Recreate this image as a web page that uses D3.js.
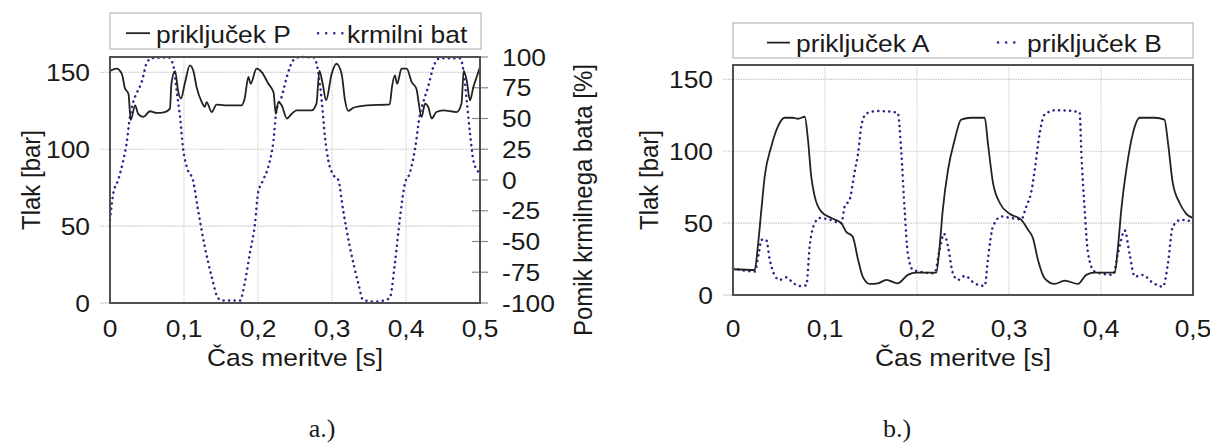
<!DOCTYPE html>
<html><head><meta charset="utf-8">
<script src="https://cdn.jsdelivr.net/npm/d3@7"></script>
<style>
body{margin:0;background:#fff;}
text{font-family:"Liberation Sans",Arial,sans-serif;fill:#1a1a1a;}
</style></head>
<body><svg id="c" width="1210" height="443"></svg>
<script>
// ---- data (chart a) ----
const tP = [0,0.009,0.016,0.020,0.025,0.028,0.034,0.038,0.045,0.054,0.063,0.074,0.081,0.083,0.088,0.092,0.096,0.101,0.108,0.1126,0.117,0.124,0.128,0.1306,0.1374,0.144,0.155,0.178,0.182,0.187,0.190,0.198,0.205,0.214,0.221,0.224,0.2275,0.232,0.239,0.2455,0.252,0.2725,0.279,0.283,0.2874,0.292,0.2995,0.306,0.313,0.3176,0.322,0.329,0.347,0.378,0.381,0.385,0.388,0.394,0.401,0.4077,0.414,0.421,0.4257,0.43,0.4347,0.441,0.450,0.4685,0.475,0.478,0.482,0.4865,0.491,0.4955,0.5];
const valP = [151,152.4,149,140,136,119,128.6,123,121,124.7,123.6,124.2,126.4,142.6,150.8,138,133,142.6,154.5,151,140.4,130.7,127.5,130.7,124.2,129,128.6,128.6,133,147,142.6,152.4,150.2,142.6,137,123,130.7,128.6,120,123,125.3,125.3,129.7,151,142.6,131.8,149,155.6,149,131.8,124.9,127,128.6,129.2,140.4,148,142.6,152.4,152.4,143.7,139.4,121,129.7,127.5,120,124.2,125.3,124.2,129.7,151,144.8,131.8,140.4,147,153.4];
const tBat = [0,0.0045,0.011,0.018,0.0225,0.027,0.0315,0.036,0.043,0.0495,0.056,0.079,0.0855,0.090,0.0946,0.099,0.1036,0.1126,0.119,0.128,0.1374,0.146,0.153,0.1757,0.182,0.189,0.196,0.2,0.207,0.214,0.221,0.225,0.232,0.239,0.248,0.257,0.275,0.281,0.286,0.2905,0.295,0.302,0.3085,0.315,0.324,0.3355,0.342,0.360,0.3716,0.378,0.385,0.392,0.3986,0.405,0.412,0.419,0.4235,0.430,0.437,0.446,0.473,0.4775,0.482,0.4865,0.491,0.4977];
const valBat = [-32.5,-10.8,0,16,30,51.5,63.7,70.5,80,95,99,99.7,93.5,73,51.5,24.4,10.8,-1.4,-24.4,-54,-78.6,-96,-98,-98,-84,-59.6,-35,-10.8,0,10.8,32.5,57,67.7,84,97.6,100,99.7,89,65,35,16,4,0,-24.4,-54,-84,-97.6,-98.9,-97.6,-96,-67.7,-30,-2.7,5.4,24.4,54,63.7,75.9,92,99,99,89.4,65,38,16,6.7];
// ---- data (chart b) ----
const tA = [0,0.0236,0.027,0.0308,0.0345,0.0417,0.049,0.056,0.065,0.0707,0.078,0.0815,0.085,0.0888,0.096,0.107,0.1177,0.123,0.130,0.136,0.141,0.1486,0.1576,0.1667,0.179,0.190,0.199,0.221,0.2246,0.228,0.2337,0.241,0.248,0.259,0.2736,0.277,0.2826,0.290,0.3007,0.3134,0.3207,0.326,0.3315,0.3388,0.3497,0.3605,0.375,0.384,0.393,0.415,0.4185,0.422,0.4275,0.4348,0.442,0.4584,0.469,0.4728,0.478,0.4855,0.4927,0.5];
const valA = [17.9,17.4,33.7,59,82.6,103.5,117.5,123.3,123.3,122.6,124,108,82.6,68.6,58,53.5,50,44,40.7,24.4,12.8,7.7,8.1,10.5,8.1,14,15.6,15.6,33.7,59,87,108,122,123.3,123.3,106,78,64,56.5,52.3,45.4,39.6,24.4,11.6,7.7,10,7.7,14,15.6,15.6,33.7,59,87,112.8,123.3,123.3,122,106,78,64,56.5,53.5];
const tB = [0,0.0236,0.028,0.031,0.036,0.040,0.045,0.0508,0.058,0.065,0.0725,0.0797,0.0833,0.0888,0.094,0.103,0.1177,0.1214,0.1268,0.132,0.136,0.1395,0.145,0.1576,0.179,0.183,0.1866,0.190,0.1957,0.219,0.2246,0.2293,0.2337,0.239,0.2446,0.252,0.2627,0.2736,0.277,0.2826,0.2917,0.3025,0.3134,0.3188,0.324,0.328,0.3334,0.3388,0.3514,0.3768,0.3786,0.3823,0.3859,0.393,0.413,0.4185,0.4258,0.431,0.4366,0.4457,0.4547,0.4674,0.4728,0.478,0.487,0.5];
const valB = [18.6,16.3,29,38.4,38.4,24.4,14,10.5,12.3,8.6,6.3,6.7,33.7,50,53.5,52.8,50,61.6,66.3,85,98.9,117.5,126.3,128,126.8,98.9,59,29,17.4,15.1,31.4,42.6,33.7,15.1,10.5,13.3,8.1,6.3,24.4,47.7,54.6,53.5,52.6,61.6,71,87,112.8,125.6,128.6,127.2,99.6,59,29,16.3,14,29,44.9,29,12.8,14,9.3,5.8,22,47.7,52.3,51];
// ---- ticks / labels ----
const xTicks = [0,0.1,0.2,0.3,0.4,0.5];
const xTickLabels = ["0","0,1","0,2","0,3","0,4","0,5"];
const yTicks = [0,50,100,150];
const y2Ticks = [-100,-75,-50,-25,0,25,50,75,100];
const xTitle = "Čas meritve [s]";
const yTitle = "Tlak [bar]";
const y2Title = "Pomik krmilnega bata [%]";
const legendA = ["priključek P","krmilni bat"];
const legendB = ["priključek A","priključek B"];
const panelLabels = ["a.)","b.)"];

const svg = d3.select("#c");
const FS = 24, SX = 1.1;
const solidCol = "#222", dotCol = "#25258a", gridCol = "#c9c9c9", frameCol = "#505050";

function txt(x, y, s, anchor, rot, opts={}){
  const g = svg.append("g").attr("transform", `translate(${x},${y}) scale(${opts.sx||SX},1)` + (rot ? ` rotate(${rot})` : ""));
  const t = g.append("text").attr("text-anchor", anchor||"start").attr("font-size", opts.fs||FS).text(s);
  if (opts.family) t.style("font-family", opts.family);
  return t;
}

function panel(cfg){
  const x = d3.scaleLinear().domain([0,0.5]).range([cfg.l, cfg.r]);
  const y = d3.scaleLinear().domain([0,160]).range([cfg.b, cfg.t]);
  const g = svg.append("g");
  g.selectAll(".vg").data(xTicks.slice(1,-1)).join("line")
    .attr("x1", d=>x(d)).attr("x2", d=>x(d)).attr("y1", cfg.t).attr("y2", cfg.b)
    .attr("stroke", gridCol).attr("stroke-width", 1).attr("stroke-dasharray", "1.5,1");
  g.selectAll(".hg").data(yTicks).join("line")
    .attr("x1", cfg.l-10).attr("x2", cfg.r).attr("y1", d=>y(d)).attr("y2", d=>y(d))
    .attr("stroke", gridCol).attr("stroke-width", 1.2).attr("stroke-dasharray", d=> d===0 ? null : "1.5,1");
  yTicks.forEach(v => txt(cfg.l-20, y(v)+8.5, String(v), "end"));
  xTicks.forEach((v,i) => txt(x(v), 337, xTickLabels[i], "middle"));
  txt((cfg.l+cfg.r)/2, 366, xTitle, "middle");
  txt(cfg.yTitleX, (cfg.t+cfg.b)/2, yTitle, "middle", -90);
  return {x, y, g};
}

function drawLine(p, ts, vs, yScale, dotted){
  const line = d3.line().x((d,i)=>p.x(ts[i])).y((d,i)=>yScale(vs[i])).curve(d3.curveMonotoneX);
  p.g.append("path").datum(vs).attr("d", line).attr("fill","none")
    .attr("stroke", dotted ? dotCol : solidCol)
    .attr("stroke-width", dotted ? 2.5 : 1.8)
    .attr("stroke-linecap", dotted ? "round" : "butt")
    .attr("stroke-dasharray", dotted ? "0.1,5.4" : null);
}

function frame(cfg){
  svg.append("rect").attr("x", cfg.l).attr("y", cfg.t).attr("width", cfg.r-cfg.l).attr("height", cfg.b-cfg.t)
    .attr("fill","none").attr("stroke", frameCol).attr("stroke-width", 2);
}

function legend(box, items){
  svg.append("rect").attr("x", box.x).attr("y", box.y).attr("width", box.w).attr("height", box.h)
    .attr("fill","#fff").attr("stroke","#b8b8b8").attr("stroke-width",1.2);
  items.forEach((it,i)=>{
    svg.append("line").attr("x1", it.lx1).attr("x2", it.lx2).attr("y1", box.y+box.h*0.56).attr("y2", box.y+box.h*0.56)
      .attr("stroke", i===0 ? solidCol : dotCol).attr("stroke-width", i===0 ? 1.8 : 2.5)
      .attr("stroke-linecap", i===0 ? "butt" : "round").attr("stroke-dasharray", i===0 ? null : "0.1,8");
    txt(it.tx, box.y+box.h-6, it.label, "start");
  });
}

// ---- panel a ----
const cfgA = {l:110, r:480, t:57, b:303, yTitleX:40};
const pa = panel(cfgA);
const y2 = d3.scaleLinear().domain([-100,100]).range([cfgA.b, cfgA.t]);
y2Ticks.forEach(v=>{
  pa.g.append("line").attr("x1", cfgA.r-8).attr("x2", cfgA.r+8).attr("y1", y2(v)).attr("y2", y2(v))
    .attr("stroke", "#8a8a8a").attr("stroke-width", 1.2);
  txt(cfgA.r+22, y2(v)+8.5, String(v), "start");
});
txt(592, 200, y2Title, "middle", -90);
drawLine(pa, tBat, valBat, y2, true);
drawLine(pa, tP, valP, pa.y, false);
frame(cfgA);
legend({x:110, y:13, w:371, h:36}, [
  {lx1:126, lx2:150, tx:156, label:legendA[0]},
  {lx1:318, lx2:344, tx:347, label:legendA[1]}
]);

// ---- panel b ----
const cfgB = {l:733, r:1193, t:65, b:295, yTitleX:658};
const pb = panel(cfgB);
drawLine(pb, tB, valB, pb.y, true);
drawLine(pb, tA, valA, pb.y, false);
frame(cfgB);
legend({x:733, y:23, w:460, h:35}, [
  {lx1:767, lx2:790, tx:796, label:legendB[0]},
  {lx1:998, lx2:1022, tx:1027, label:legendB[1]}
]);

txt(322, 437, panelLabels[0], "middle", 0, {family:"Liberation Serif", fs:26, sx:1});
txt(897, 437, panelLabels[1], "middle", 0, {family:"Liberation Serif", fs:26, sx:1});
</script></body></html>
